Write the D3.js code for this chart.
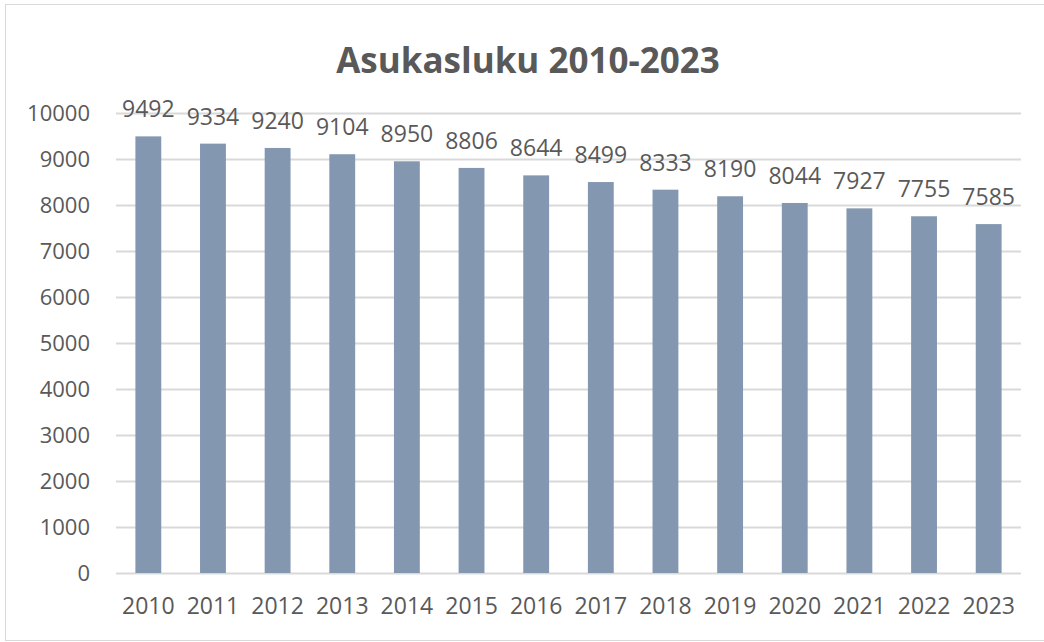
<!DOCTYPE html>
<html lang="fi">

<head>
    <meta charset="UTF-8">
    <title>Asukasluku 2010-2023</title>
    <script src="https://d3js.org/d3.v7.min.js"></script>
    <style>
        body {
            margin: 0;
            background: #fff;
        }

        text {
            font-family: "Open Sans", "Liberation Sans", sans-serif;
            fill: #595959;
        }
    </style>
</head>

<body>
    <div id="chart"></div>
    <script>
        const width = 1044;
        const height = 642;

        // data
        const years = ["2010", "2011", "2012", "2013", "2014", "2015", "2016",
            "2017", "2018", "2019", "2020", "2021", "2022", "2023"];
        const population = [9492, 9334, 9240, 9104, 8950, 8806, 8644,
            8499, 8333, 8190, 8044, 7927, 7755, 7585];
        const yTicks = [0, 1000, 2000, 3000, 4000, 5000, 6000, 7000, 8000, 9000, 10000];

        const margin = { top: 113, right: 23, bottom: 69, left: 116 };

        const svg = d3.select("#chart")
            .append("svg")
            .attr("width", width)
            .attr("height", height);

        // chart border
        svg.append("rect")
            .attr("x", 5.5)
            .attr("y", 4.5)
            .attr("width", width)
            .attr("height", 636)
            .attr("fill", "none")
            .attr("stroke", "#d9d9d9");

        const x = d3.scaleBand()
            .domain(years)
            .range([margin.left, width - margin.right])
            .paddingInner(0.6)
            .paddingOuter(0.3);

        const y = d3.scaleLinear()
            .domain([0, 10000])
            .range([height - margin.bottom, margin.top]);

        // gridlines
        svg.append("g")
            .selectAll("line")
            .data(yTicks)
            .join("line")
            .attr("x1", margin.left)
            .attr("x2", width - margin.right)
            .attr("y1", d => Math.round(y(d)) + 0.5)
            .attr("y2", d => Math.round(y(d)) + 0.5)
            .attr("stroke", "#d9d9d9")
            .attr("stroke-width", 2);

        // y axis labels
        const yAxis = d3.axisLeft(y).tickValues(yTicks).tickFormat(d3.format("d"))
            .tickSize(0).tickPadding(0);
        svg.append("g")
            .attr("transform", `translate(${margin.left - 26},0)`)
            .call(yAxis)
            .call(g => g.select(".domain").remove())
            .selectAll("text")
            .style("font-family", "\"Open Sans\", sans-serif")
            .style("font-size", "22px")
            .attr("fill", "#595959");

        // bars
        svg.append("g")
            .selectAll("rect")
            .data(population)
            .join("rect")
            .attr("x", (d, i) => x(years[i]))
            .attr("y", d => y(d))
            .attr("width", x.bandwidth())
            .attr("height", d => y(0) - y(d))
            .attr("fill", "#8497b0");

        // data labels
        svg.append("g")
            .selectAll("text")
            .data(population)
            .join("text")
            .attr("x", (d, i) => x(years[i]) + x.bandwidth() / 2)
            .attr("y", d => y(d) - 19)
            .attr("text-anchor", "middle")
            .style("font-size", "23px")
            .text(d => d);

        // x axis labels
        const xAxis = d3.axisBottom(x).tickSize(0).tickPadding(0);
        svg.append("g")
            .attr("transform", `translate(0,${height - margin.bottom + 25})`)
            .call(xAxis)
            .call(g => g.select(".domain").remove())
            .selectAll("text")
            .style("font-family", "\"Open Sans\", sans-serif")
            .style("font-size", "23px")
            .attr("fill", "#595959");

        // title
        svg.append("text")
            .attr("x", 528)
            .attr("y", 73)
            .attr("text-anchor", "middle")
            .style("font-size", "35px")
            .style("font-weight", "bold")
            .text("Asukasluku 2010-2023");
    </script>
</body>

</html>
